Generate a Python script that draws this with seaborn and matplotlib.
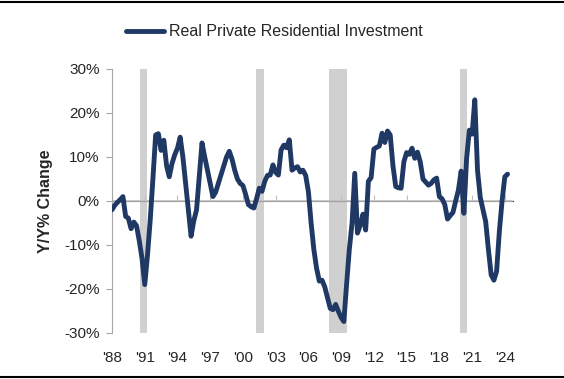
import pandas as pd
import seaborn as sns
import matplotlib.pyplot as plt
from matplotlib.lines import Line2D

# Y/Y % Veraenderung, quartalsweise ab 1988Q1
values = [
    -2.0, -1.0, -0.3, 0.3, 1.0, -3.5, -3.9, -6.3, -4.8, -5.6,
    -9.0, -13.0, -19.0, -12.5, -4.5, 5.0, 15.0, 15.3, 11.5, 13.8,
    8.0, 5.5, 8.5, 10.5, 12.0, 14.5, 10.0, 4.0, -2.0, -8.0,
    -4.5, -2.0, 5.5, 13.2, 10.0, 7.0, 4.0, 1.0, 2.0, 4.0,
    6.0, 8.0, 10.0, 11.3, 9.5, 7.0, 5.0, 4.0, 3.5, 1.5,
    -0.8, -1.3, -1.6, 0.5, 2.9, 2.2, 4.5, 5.8, 5.9, 8.2,
    6.5, 5.9, 11.6, 12.7, 12.1, 13.9, 7.0, 7.5, 7.8, 6.6,
    7.0, 5.8, 2.1, -5.0, -11.0, -15.3, -18.2, -18.0, -19.5, -22.0,
    -24.4, -24.7, -23.5, -25.1, -26.5, -27.4, -19.0, -11.0, -5.0, 6.3,
    -7.3, -5.5, -3.0, -6.6, 4.5, 5.3, 11.8, 12.2, 12.5, 15.4,
    13.3, 15.9, 15.0, 8.0, 3.3, 3.0, 2.9, 8.9, 11.0, 10.6,
    12.0, 9.7, 11.1, 8.9, 5.0, 4.3, 3.6, 4.0, 4.8, 5.2,
    1.0, 0.5, -0.8, -4.1, -3.3, -2.6, 0.0, 2.5, 6.8, -2.8,
    9.7, 16.1, 15.2, 23.0, 7.0, 0.8, -2.0, -4.7, -11.0, -16.8,
    -18.0, -16.0, -7.0, 0.0, 5.5, 6.1,
]
dates = pd.date_range('1988-01-01', periods=len(values), freq='QS')

recessions = [
    ('1990-08-01', '1991-03-15'),
    ('2001-03-01', '2001-12-15'),
    ('2007-12-01', '2009-07-01'),
    ('2019-11-15', '2020-07-01'),
]

tick_years = list(range(1988, 2025, 3))
tick_labels = ["'" + str(y)[2:] for y in tick_years]
yticks = [-30, -20, -10, 0, 10, 20, 30]

df = pd.DataFrame({'date': dates, 'value': values})

sns.set_style('white')
plt.rcParams['font.family'] = ['Liberation Sans', 'DejaVu Sans']

navy = '#1F3864'
grey = '#BFBFBF'

fig = plt.figure(figsize=(5.64, 3.79), dpi=100)
ax = fig.add_axes([112 / 564, 46 / 379, 401 / 564, 264 / 379])

# Rezessionen
for start, end in recessions:
    ax.axvspan(pd.Timestamp(start), pd.Timestamp(end), color='#D0D0D0', lw=0, zorder=0)

ax.axhline(0, color=grey, lw=1.2, zorder=1)

sns.lineplot(data=df, x='date', y='value', ax=ax, color=navy, lw=3.5,
             label='Real Private Residential Investment', zorder=3)

ax.set_xlim(pd.Timestamp('1988-01-01'), pd.Timestamp('2024-10-01'))
ax.set_ylim(-30, 30)
ax.set_yticks(yticks)
ax.set_yticklabels([f'{v}%' for v in yticks], fontsize=11)

tick_dates = [pd.Timestamp(f'{y}-01-01') for y in tick_years]
ax.set_xticks(tick_dates)
ax.set_xticklabels(tick_labels, fontsize=11)
ax.tick_params(axis='x', length=0, pad=13)
ax.tick_params(axis='y', length=4, color='#A6A6A6', direction='out', pad=5, left=True)

for s in ['top', 'right', 'bottom']:
    ax.spines[s].set_visible(False)
ax.spines['left'].set_color('#A6A6A6')

# Ticks an der Nulllinie
sec = ax.secondary_xaxis(0.5)
sec.set_xticks(tick_dates)
sec.set_xticklabels([''] * len(tick_dates))
sec.tick_params(length=4, color=grey, direction='out')
sec.spines['bottom'].set_visible(False)

ax.set_xlabel('')
ax.set_ylabel('Y/Y% Change', fontsize=11.5, fontweight='bold', labelpad=8)

ax.legend(loc='center', bbox_to_anchor=(274 / 564, 1 - 32 / 379),
          bbox_transform=fig.transFigure, frameon=False, fontsize=11.5,
          handlelength=2.4, handletextpad=0.3)

# Trennlinien oben und unten
fig.add_artist(Line2D([0, 1], [1 - 2 / 379, 1 - 2 / 379], color='black', lw=1.5))
fig.add_artist(Line2D([0, 1], [2 / 379, 2 / 379], color='black', lw=1.5))

fig.savefig('out.png', dpi=100)
